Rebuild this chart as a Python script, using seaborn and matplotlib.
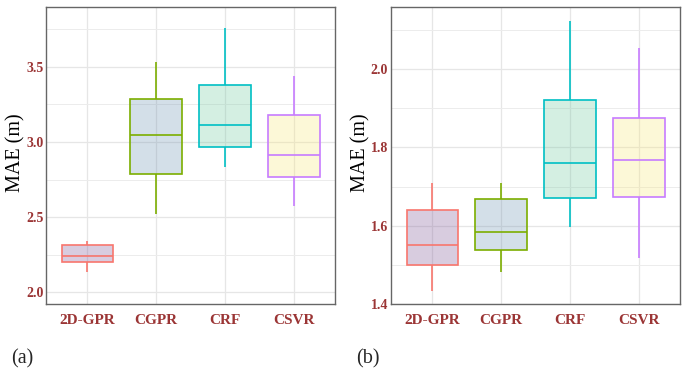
import numpy as np
import pandas as pd
import matplotlib
matplotlib.use("Agg")
import matplotlib.pyplot as plt
from matplotlib.ticker import FormatStrFormatter, FixedLocator
import seaborn as sns

models = ["2D-GPR", "CGPR", "CRF", "CSVR"]

# five-number summaries: low whisker, Q1, median, Q3, high whisker
mae_a = {
    "2D-GPR": [2.137, 2.200, 2.242, 2.317, 2.344],
    "CGPR": [2.522, 2.788, 3.049, 3.289, 3.535],
    "CRF": [2.831, 2.964, 3.111, 3.377, 3.760],
    "CSVR": [2.571, 2.769, 2.915, 3.177, 3.437],
}
mae_b = {
    "2D-GPR": [1.434, 1.500, 1.550, 1.639, 1.710],
    "CGPR": [1.483, 1.538, 1.583, 1.669, 1.709],
    "CRF": [1.598, 1.672, 1.761, 1.922, 2.124],
    "CSVR": [1.518, 1.674, 1.767, 1.876, 2.053],
}

edge_colors = ["#F8766D", "#7CAE00", "#00BFC4", "#C77CFF"]
fill_colors = ["#805898", "#7095b3", "#73caa2", "#f8e87d"]
tick_color = "#9b3535"

rows = []
for panel, d in [("a", mae_a), ("b", mae_b)]:
    for m in models:
        for v in d[m]:
            rows.append({"panel": panel, "model": m, "mae": v})
df = pd.DataFrame(rows)

sns.set_theme(style="white")
plt.rcParams["font.family"] = ["Liberation Serif", "DejaVu Serif"]

fig = plt.figure(figsize=(6.86, 3.71), dpi=100)
ax_a = fig.add_axes([0.0671, 0.1806, 0.4213, 0.8005])
ax_b = fig.add_axes([0.570, 0.1806, 0.4213, 0.8005])

settings = {
    "a": dict(ylim=(1.922, 3.898), major=[2.0, 2.5, 3.0, 3.5], minor=[2.25, 2.75, 3.25, 3.75]),
    "b": dict(ylim=(1.4, 2.159), major=[1.4, 1.6, 1.8, 2.0], minor=[1.5, 1.7, 1.9, 2.1]),
}

for ax, panel in [(ax_a, "a"), (ax_b, "b")]:
    for i, m in enumerate(models):
        sub = df[(df["panel"] == panel) & (df["model"] == m)]
        sns.boxplot(data=sub, x="model", y="mae", order=models,
                    color=fill_colors[i], linecolor=edge_colors[i],
                    linewidth=1.2, width=0.75, showcaps=False, whis=np.inf,
                    saturation=1, ax=ax)
    for i, p in enumerate(ax.patches):
        p.set_facecolor(matplotlib.colors.to_rgba(fill_colors[i], 0.3))
        p.set_edgecolor(edge_colors[i])

    s = settings[panel]
    ax.set_xlim(-0.6, 3.6)
    ax.set_ylim(*s["ylim"])
    ax.yaxis.set_major_locator(FixedLocator(s["major"]))
    ax.yaxis.set_minor_locator(FixedLocator(s["minor"]))
    ax.yaxis.set_major_formatter(FormatStrFormatter("%.1f"))
    ax.set_axisbelow(True)
    ax.grid(True, which="major", axis="both", color="#e6e6e6", linewidth=0.9)
    ax.grid(True, which="minor", axis="y", color="#ececec", linewidth=0.7)
    ax.tick_params(axis="both", which="both", length=0)
    ax.tick_params(axis="y", pad=2)
    ax.tick_params(axis="x", pad=7)
    for lab in ax.get_yticklabels():
        lab.set_fontsize(10)
        lab.set_fontweight("bold")
        lab.set_color(tick_color)
    for lab in ax.get_xticklabels():
        lab.set_fontsize(11)
        lab.set_fontweight("bold")
        lab.set_color(tick_color)
    ax.set_xlabel("")
    ax.set_ylabel("MAE (m)", fontsize=14.5, color="black")
    ax.yaxis.set_label_coords(-0.072, 0.51)
    for sp in ax.spines.values():
        sp.set_visible(True)
        sp.set_color("#666666")
        sp.set_linewidth(1.0)

fig.text(0.016, 1 - 359 / 371, "(a)", fontsize=14.5, va="center", ha="left")
fig.text(0.519, 1 - 359 / 371, "(b)", fontsize=14.5, va="center", ha="left")

fig.savefig("out.png", dpi=100)
